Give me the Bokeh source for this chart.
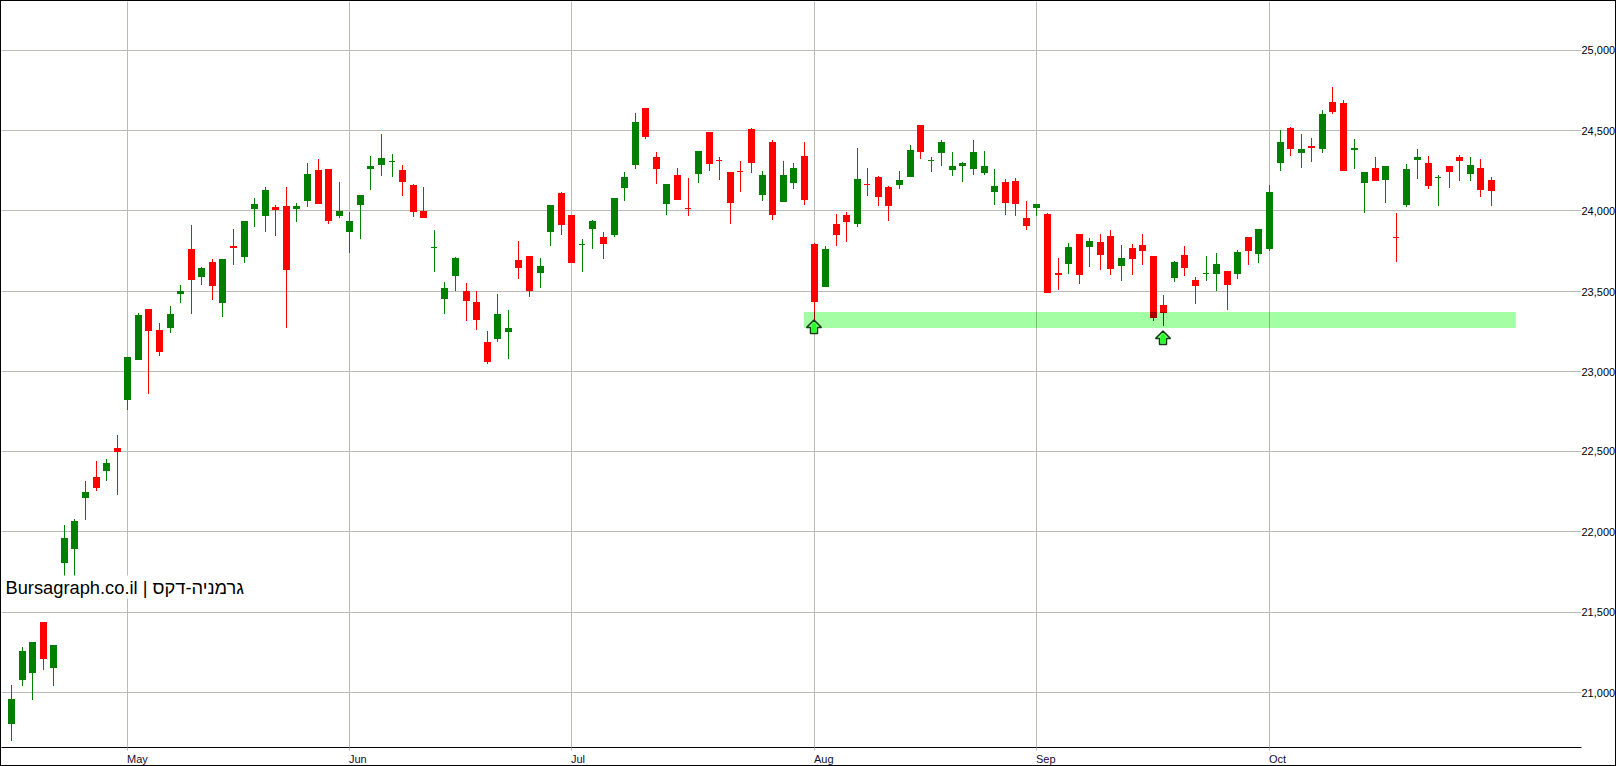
import math
from bokeh.plotting import figure
from bokeh.models import Label, FixedTicker
from bokeh.embed import file_html
from bokeh.resources import INLINE

# ---- data ----
month_idx = [11, 32, 53, 76, 97, 119]
month_labels = ["May", "Jun", "Jul", "Aug", "Sep", "Oct"]
y_ticks = [21000, 21500, 22000, 22500, 23000, 23500, 24000, 24500, 25000]
y_labels = ["21,000", "21,500", "22,000", "22,500", "23,000", "23,500", "24,000", "24,500", "25,000"]

opens = [20803,21077,21120,21438,21152,21805,21893,22210,22341,22378,22522,22820,
23070,23387,23256,23269,23481,23761,23587,23680,23425,23780,23711,24010,23966,24023,24029,24010,24060,24253,
24259,23966,23867,24035,24259,24284,24303,24253,24160,23998,23769,23450,23593,23499,23431,23182,23200,23244,
23692,23717,23611,23867,24110,23973,23788,23886,23836,23848,24141,24284,24639,24334,24041,24222,24016,24228,
24490,24315,24240,24247,24508,24097,24427,24054,24172,24340,23792,23524,23917,23973,23917,24166,24209,24147,
24160,24209,24533,24311,24359,24253,24278,24259,24234,24116,24178,24184,23954,24016,23979,23611,23668,23854,
23773,23805,23842,23655,23767,23786,23717,23412,23580,23724,23568,23605,23605,23624,23605,23836,23730,23761,
24297,24515,24359,24402,24384,24676,24670,24378,24172,24265,24191,23836,24035,24315,24297,24205,24278,24334,
24228,24265,24191]
highs = [21046,21282,21313,21438,21295,22042,22080,22316,22441,22453,22603,23088,
23362,23387,23300,23406,23537,23910,23649,23699,23699,23885,23935,24079,24147,24035,24147,24047,24297,24321,
24259,24178,23991,24097,24340,24477,24353,24284,24166,24147,23879,23555,23711,23549,23499,23250,23481,23381,
23811,23717,23705,24035,24116,23973,23823,23942,23867,24079,24240,24608,24639,24365,24166,24265,24203,24371,
24490,24334,24240,24309,24515,24247,24440,24309,24297,24427,23798,23780,23979,23991,24390,24265,24216,24153,
24247,24409,24533,24334,24440,24365,24303,24440,24371,24259,24197,24203,24060,24041,23985,23705,23798,23854,
23829,23854,23879,23786,23792,23854,23717,23474,23686,23780,23587,23717,23736,23624,23755,23836,23885,24160,
24502,24521,24477,24452,24627,24770,24689,24446,24240,24334,24278,23985,24290,24384,24340,24222,24278,24346,
24334,24321,24209]
lows = [20697,21039,20952,21139,21039,21720,21720,22073,22254,22316,22229,22758,
23070,22858,23095,23238,23425,23356,23537,23443,23337,23661,23674,23898,23867,23842,23269,23929,24023,24041,
23917,23954,23736,23823,24128,24216,24209,24091,23960,23954,23618,23356,23499,23313,23256,23045,23182,23076,
23574,23462,23518,23780,23848,23674,23618,23761,23699,23836,24060,24259,24446,24166,23973,24066,23966,24172,
24247,24191,23917,24116,24234,24060,23942,24054,24135,24035,23320,23524,23780,23805,23898,24091,24029,23935,
24135,24209,24321,24240,24278,24216,24178,24222,24222,24035,23973,23966,23879,23966,23487,23506,23605,23543,
23649,23630,23599,23562,23599,23661,23313,23281,23555,23593,23418,23562,23499,23381,23574,23661,23674,23748,
24247,24340,24265,24303,24359,24602,24247,24259,23985,24184,24047,23680,24023,24197,24135,24029,24141,24184,
24184,24085,24029]
closes = [20958,21257,21313,21208,21295,21961,22067,22248,22273,22428,22497,23088,
23350,23250,23119,23356,23499,23568,23643,23530,23699,23767,23935,24041,24128,24004,23630,24029,24228,24041,
23935,23998,23935,24097,24278,24328,24307,24178,23991,23954,23773,23518,23705,23437,23319,23057,23356,23269,
23643,23499,23655,24035,23910,23674,23792,23935,23792,24079,24209,24552,24458,24259,24166,24066,24010,24371,
24290,24309,24047,24240,24297,24222,23973,24222,24265,24066,23431,23761,23848,23929,24197,24160,24085,24029,
24191,24378,24365,24315,24427,24278,24297,24365,24278,24153,24047,24041,23904,24041,23487,23599,23773,23599,
23811,23724,23636,23705,23699,23748,23331,23362,23680,23643,23531,23611,23667,23537,23742,23748,23885,24116,
24427,24384,24384,24390,24602,24614,24247,24390,24240,24184,24278,23829,24259,24334,24153,24211,24240,24309,
24284,24128,24122]

band_low, band_high = 23271, 23371
band_from_idx, band_to_idx = 74.95, 142.3
arrow_idx = [76, 109]
arrow_tip = [23320, 23251]
caption = "Bursagraph.co.il | גרמניה-דקס"

# ---- scales: picture pixels per index / per price unit ----
X0, SX = 11.5, 10.571
Y0, SY = 692.5, 562.0 / 3500.0
FRAME_X0, FRAME_X1, FRAME_Y0, FRAME_Y1 = 1, 1581, 1, 747
PAINT_SHIFT = 0.5     # the canvas paints everything half a pixel off; compensate in the ranges
GREEN, RED, GRID = "#008000", "#FF0000", "#BEBBB6"
BAND = "#A4FFA4"
FONT = "Liberation Sans"
LABEL_W = [20.8, 17.7, 14.0, 19.5, 19.5, 17.1]   # text widths, to left-align labels on their ticks

def ix(px):  return (px - X0) / SX          # px column -> index
def ipy(y): return 21000 + (Y0 - y) / SY    # px row -> value
def py(v):   return Y0 - (v - 21000) * SY
def col(i):  return math.floor(X0 + SX * i) + 0.5
def mult(a, b):
    return "#%02X%02X%02X" % tuple(int(a[k:k+2], 16) * int(b[k:k+2], 16) // 255 for k in (1, 3, 5))

grid_x = [round(ix(col(i)), 5) for i in month_idx]
label_x = {round(ix(col(i) - 0.5 + w / 2), 5): lab for i, w, lab in zip(month_idx, LABEL_W, month_labels)}
y_snap = {round(ipy(math.floor(py(v)) + 0.5), 3): lab for v, lab in zip(y_ticks, y_labels)}

p = figure(width=1614, height=764,
           frame_width=FRAME_X1 - FRAME_X0, frame_height=FRAME_Y1 - FRAME_Y0,
           output_backend="svg", toolbar_location=None,
           x_range=(ix(FRAME_X0 + PAINT_SHIFT), ix(FRAME_X1 + PAINT_SHIFT)),
           y_range=(ipy(FRAME_Y1 + PAINT_SHIFT), ipy(FRAME_Y0 + PAINT_SHIFT)),
           x_axis_location="below", y_axis_location="right",
           min_border_left=0, min_border_top=0, min_border_right=34, min_border_bottom=18,
           background_fill_color="white", border_fill_color="white", outline_line_color=None)
p.styles = {"position": "absolute", "left": "0px", "top": "0px",
            "border": "1px solid #000", "box-sizing": "content-box",
            "width": "1614px", "height": "764px", "overflow": "hidden"}

ax = p.xaxis[0]
ax.ticker = FixedTicker(ticks=list(label_x), minor_ticks=grid_x)
ax.major_label_overrides = label_x
ax.axis_line_color = "#000000"
ax.major_tick_line_color = None
ax.major_tick_in, ax.major_tick_out = 0, 0
ax.minor_tick_line_color = GRID
ax.minor_tick_in, ax.minor_tick_out = 0, 3
ax.major_label_standoff = 2
ax.major_label_text_font = FONT
ax.major_label_text_font_size = "11px"
ax.major_label_text_color = "#101030"

ay = p.yaxis[0]
ay.ticker = FixedTicker(ticks=list(y_snap))
ay.major_label_overrides = y_snap
ay.axis_line_color = None
ay.major_tick_line_color = None
ay.major_tick_in, ay.major_tick_out = 0, 0
ay.minor_tick_line_color = None
ay.major_label_standoff = 0
ay.major_label_text_font = FONT
ay.major_label_text_font_size = "11px"
ay.major_label_text_color = "#000000"

for g in (p.xgrid[0], p.ygrid[0]):
    g.grid_line_color = GRID
    g.grid_line_width = 1
p.xgrid[0].ticker = FixedTicker(ticks=grid_x)
p.ygrid[0].ticker = FixedTicker(ticks=list(y_snap))

# ---- candles ----
band_top, band_bot = round(py(band_high)), round(py(band_low))
p.quad(left=[band_from_idx], right=[band_to_idx], top=[ipy(band_top)], bottom=[ipy(band_bot)],
       fill_color=BAND, line_color=None)
for c in grid_x:
    if band_from_idx <= c <= band_to_idx:
        p.segment([c], [ipy(band_top)], [c], [ipy(band_bot)], line_color=mult(GRID, BAND), line_width=1)

bx0, bx1, bt, bb, bc = [], [], [], [], []
wx, wt, wb, wc = [], [], [], []
ox0, ox1, ot, ob, oc = [], [], [], [], []
wox, wot, wob, woc = [], [], [], []
for i, (o, h, l, c) in enumerate(zip(opens, highs, lows, closes)):
    color = GREEN if c >= o else RED
    cx = col(i)
    top, bot = round(py(max(o, c))), round(py(min(o, c)))
    hi, lo = round(py(h)), round(py(l))
    doji = bot - top <= 1
    if doji:
        bot = top + 1
    left, right = (cx - 3.5, cx + 2.5) if doji else (cx - 3.5, cx + 3.5)
    bx0.append(ix(left)); bx1.append(ix(right)); bt.append(ipy(top)); bb.append(ipy(bot)); bc.append(color)
    wx.append(ix(cx)); wt.append(ipy(hi)); wb.append(ipy(lo)); wc.append(color)
    # parts lying under the band are darkened the way the picture multiplies them
    s, e = max(top, band_top), min(bot, band_bot)
    if s < e and band_from_idx <= i <= band_to_idx:
        ox0.append(ix(left)); ox1.append(ix(right)); ot.append(ipy(s)); ob.append(ipy(e)); oc.append(mult(color, BAND))
    s, e = max(hi, band_top), min(lo, band_bot)
    if s < e and band_from_idx <= i <= band_to_idx:
        wox.append(ix(cx)); wot.append(ipy(s)); wob.append(ipy(e)); woc.append(mult(color, BAND))

p.segment(wx, wt, wx, wb, line_color=wc, line_width=1)
p.quad(left=bx0, right=bx1, top=bt, bottom=bb, fill_color=bc, line_color=None)
p.segment(wox, wot, wox, wob, line_color=woc, line_width=1)
p.quad(left=ox0, right=ox1, top=ot, bottom=ob, fill_color=oc, line_color=None)

# ---- arrows ----
outline = [(0, 0), (7.5, 7.5), (3.5, 7.5), (3.5, 13.5), (-3.5, 13.5), (-3.5, 7.5), (-7.5, 7.5)]
inner = [(0, 2), (2.5, 5), (2.5, 12), (-2.5, 12), (-2.5, 5)]
for i, t in zip(arrow_idx, arrow_tip):
    cx, ty = col(i) - 0.5, round(py(t))
    p.patch([ix(cx + a) for a, b in outline], [ipy(ty + b) for a, b in outline],
            fill_color="#78FF78", line_color="#143C14", line_width=1.5)
    p.patch([ix(cx + a) for a, b in inner], [ipy(ty + b) for a, b in inner],
            fill_color="#28FF28", line_color=None)

p.add_layout(Label(x=3, y=149, x_units="screen", y_units="screen", text=caption,
                   text_font=FONT, text_font_size="18.3px", text_color="#000000",
                   background_fill_color="white", padding=1))

open("out.html", "w").write(file_html(p, INLINE))
